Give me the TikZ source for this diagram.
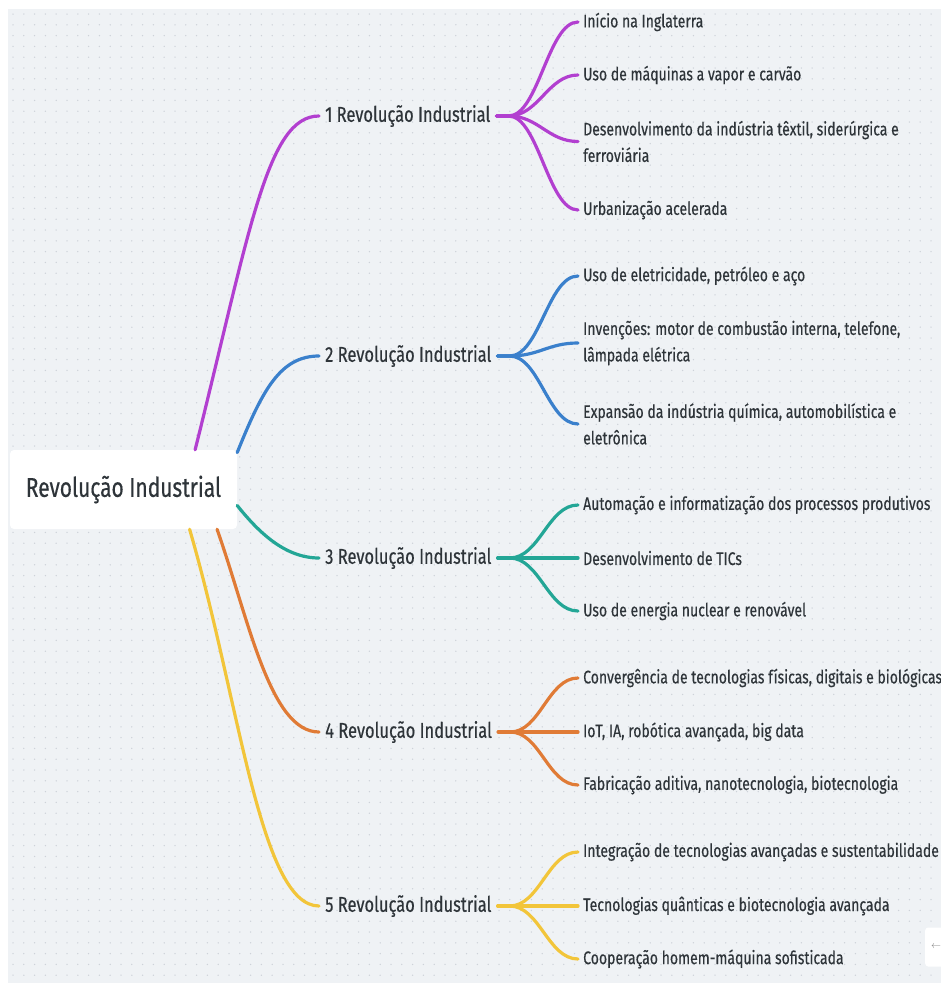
\documentclass[tikz,border=0pt]{standalone}
\usepackage{fontspec}
\setmainfont{Fira Sans}[FakeStretch=0.77, RawFeature={embolden=0.4}]
\usetikzlibrary{positioning}

\definecolor{bgpaper}{HTML}{EFF2F5}
\definecolor{griddot}{HTML}{CDD2D9}
\definecolor{inktext}{HTML}{2E3439}
\definecolor{revA}{HTML}{B23FD0}
\definecolor{revB}{HTML}{3A80CC}
\definecolor{revC}{HTML}{23A696}
\definecolor{revD}{HTML}{E07B36}
\definecolor{revE}{HTML}{F2C53A}

\begin{document}
\begin{tikzpicture}[
    x=1pt, y=-1pt,
    line cap=round,
    root/.style={rectangle, rounded corners=4pt, fill=white, minimum width=227pt, minimum height=79pt, inner sep=0pt, font=\fontsize{27.2}{30}\selectfont, text=inktext},
    era/.style={anchor=west, inner xsep=6pt, inner ysep=3pt, font=\fontsize{21.4}{24}\selectfont, text=inktext},
    fact/.style={anchor=west, inner xsep=5pt, inner ysep=3pt, align=left, font=\fontsize{18.2}{26.5}\selectfont, text=inktext},
    branch/.style={draw=#1, line width=3.2pt},
    dotrow/.style={griddot, line width=1.5pt, dash pattern=on 0pt off 10.8pt},
    navbox/.style={rectangle, rounded corners=3pt, fill=white, minimum width=22pt, minimum height=39pt, anchor=west, text=gray}
]

    % Canvas with dotted grid
    \useasboundingbox (0,0) rectangle (941,983);
    \fill[white] (0,0) rectangle (941,983);
    \fill[bgpaper] (8,9) rectangle (941,983);
    \foreach \gy in {0,...,89} {
        \draw[dotrow] (13, 14+\gy*10.8) -- (941, 14+\gy*10.8);
    }

    % Define the central node and the five revolutions
    \node[root] (root) at (123.5, 489.5) {Revolução Industrial};
    \node[era] (eraA) at (319, 116) {1 Revolução Industrial};
    \node[era] (eraB) at (319, 356) {2 Revolução Industrial};
    \node[era] (eraC) at (319, 558) {3 Revolução Industrial};
    \node[era] (eraD) at (319, 732) {4 Revolução Industrial};
    \node[era] (eraE) at (319, 906) {5 Revolução Industrial};

    % Define the leaves of each revolution
    \node[fact] (a1) at (578, 22) {Início na Inglaterra};
    \node[fact] (a2) at (578, 75) {Uso de máquinas a vapor e carvão};
    \node[fact] (a3) at (578, 141.5) {Desenvolvimento da indústria têxtil, siderúrgica e\\ferroviária};
    \node[fact] (a4) at (578, 210) {Urbanização acelerada};

    \node[fact] (b1) at (578, 276) {Uso de eletricidade, petróleo e aço};
    \node[fact] (b2) at (578, 343) {Invenções: motor de combustão interna, telefone,\\lâmpada elétrica};
    \node[fact] (b3) at (578, 424) {Expansão da indústria química, automobilística e\\eletrônica};

    \node[fact] (c1) at (578, 505) {Automação e informatização dos processos produtivos};
    \node[fact] (c2) at (578, 558) {Desenvolvimento de TICs};
    \node[fact] (c3) at (578, 611) {Uso de energia nuclear e renovável};

    \node[fact] (d1) at (578, 678) {Convergência de tecnologias físicas, digitais e biológicas};
    \node[fact] (d2) at (578, 732) {IoT, IA, robótica avançada, big data};
    \node[fact] (d3) at (578, 785) {Fabricação aditiva, nanotecnologia, biotecnologia};

    \node[fact] (e1) at (578, 852) {Integração de tecnologias avançadas e sustentabilidade};
    \node[fact] (e2) at (578, 906) {Tecnologias quânticas e biotecnologia avançada};
    \node[fact] (e3) at (578, 959) {Cooperação homem-máquina sofisticada};

    \node[navbox] (back) at (925, 947) {$\leftarrow$};

    % Branches from the central node
    \draw[branch=revA] (root.29) .. controls +(55,-220) and +(-52,0) .. (eraA.west);
    \draw[branch=revB] (root.18) .. controls +(25,-62) and +(-39,0) .. (eraB.west);
    \draw[branch=revC] (root.-8) .. controls +(20,25) and +(-35,0) .. (eraC.west);
    \draw[branch=revD] (root.-23) .. controls +(32,91) and +(-49,0) .. (eraD.west);
    \draw[branch=revE] (root.-31) .. controls +(50,171) and +(-59,0) .. (eraE.west);

    % Fans from each revolution to its leaves
    \draw[branch=revA] (eraA.east) -- ++(12,0) .. controls +(30,0) and +(-30,0) .. (a1.west);
    \draw[branch=revA] (eraA.east) -- ++(12,0) .. controls +(30,0) and +(-30,0) .. (a2.west);
    \draw[branch=revA] (eraA.east) -- ++(12,0) .. controls +(30,0) and +(-30,0) .. (a3.west);
    \draw[branch=revA] (eraA.east) -- ++(12,0) .. controls +(30,0) and +(-30,0) .. (a4.west);

    \draw[branch=revB] (eraB.east) -- ++(12,0) .. controls +(30,0) and +(-30,0) .. (b1.west);
    \draw[branch=revB] (eraB.east) -- ++(12,0) .. controls +(30,0) and +(-30,0) .. (b2.west);
    \draw[branch=revB] (eraB.east) -- ++(12,0) .. controls +(30,0) and +(-30,0) .. (b3.west);

    \draw[branch=revC] (eraC.east) -- ++(12,0) .. controls +(30,0) and +(-30,0) .. (c1.west);
    \draw[branch=revC] (eraC.east) -- ++(12,0) .. controls +(30,0) and +(-30,0) .. (c2.west);
    \draw[branch=revC] (eraC.east) -- ++(12,0) .. controls +(30,0) and +(-30,0) .. (c3.west);

    \draw[branch=revD] (eraD.east) -- ++(12,0) .. controls +(30,0) and +(-30,0) .. (d1.west);
    \draw[branch=revD] (eraD.east) -- ++(12,0) .. controls +(30,0) and +(-30,0) .. (d2.west);
    \draw[branch=revD] (eraD.east) -- ++(12,0) .. controls +(30,0) and +(-30,0) .. (d3.west);

    \draw[branch=revE] (eraE.east) -- ++(12,0) .. controls +(30,0) and +(-30,0) .. (e1.west);
    \draw[branch=revE] (eraE.east) -- ++(12,0) .. controls +(30,0) and +(-30,0) .. (e2.west);
    \draw[branch=revE] (eraE.east) -- ++(12,0) .. controls +(30,0) and +(-30,0) .. (e3.west);

\end{tikzpicture}
\end{document}
